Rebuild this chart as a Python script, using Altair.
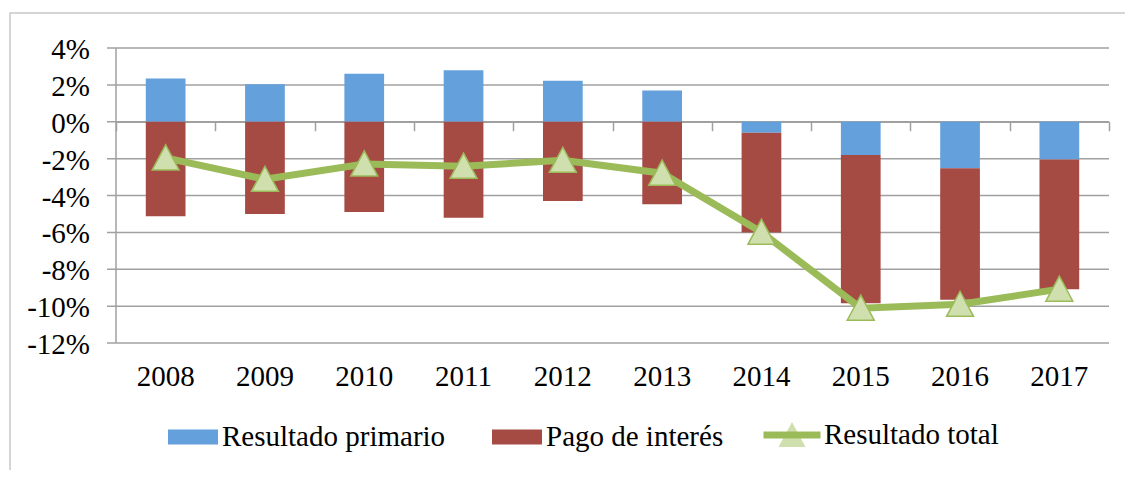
import altair as alt
import pandas as pd

# ---- data (values in %) ----
years = ["2008", "2009", "2010", "2011", "2012", "2013", "2014", "2015", "2016", "2017"]
primario = [2.35, 2.03, 2.60, 2.80, 2.23, 1.70, -0.60, -1.81, -2.52, -2.05]
interes = [-5.13, -5.00, -4.89, -5.20, -4.30, -4.48, -5.40, -8.03, -7.14, -7.03]
total = [-1.96, -3.12, -2.29, -2.41, -2.09, -2.79, -5.99, -10.11, -9.90, -9.08]
y_ticks = [-12, -10, -8, -6, -4, -2, 0, 2, 4]
y_labels = ["-12%", "-10%", "-8%", "-6%", "-4%", "-2%", "0%", "2%", "4%"]

SER_P = "Resultado primario"
SER_I = "Pago de interés"
SER_T = "Resultado total"

bars_df = pd.DataFrame({
    "anio": years * 2,
    "serie": [SER_P] * len(years) + [SER_I] * len(years),
    "valor": primario + interes,
    "orden": [0] * len(years) + [1] * len(years),
})
line_df = pd.DataFrame({"anio": years, "serie": [SER_T] * len(years), "valor": total})
ytick_df = pd.DataFrame({"t": y_ticks, "lab": y_labels})

FONT = "Liberation Serif"
FS = 29
GRID = "#A0A0A0"
BLUE = "#64A0DC"
RED = "#A64A44"
GREEN = "#9BBB59"
LIGHT = "#D0DFAE"
TRI = "M0,-0.42L0.435,0.39L-0.435,0.39Z"
W, H = 993, 295

x_scale = alt.Scale(type="band", domain=years, paddingInner=0.6, paddingOuter=0.3)
x_scale_axis = alt.Scale(type="band", domain=years, paddingInner=0, paddingOuter=0)
y_scale = alt.Scale(domain=[-12, 4], nice=False, zero=False)

border = alt.Chart(pd.DataFrame({"a": [0]})).mark_rect(
    fillOpacity=0, stroke="#C8C8C8", strokeWidth=1.5
).encode(
    x=alt.value(-106), x2=alt.value(1100), y=alt.value(-35), y2=alt.value(520)
)

# horizontal gridlines (with their short tick left of the axis)
grid = alt.Chart(ytick_df).mark_rule(color=GRID, strokeWidth=1.5).encode(
    y=alt.Y("t:Q", scale=y_scale, axis=None),
    x=alt.value(-9), x2=alt.value(W),
)
# vertical axis line
ydomain = alt.Chart(pd.DataFrame({"a": [0]})).mark_rule(color=GRID, strokeWidth=1.5).encode(
    x=alt.value(0), y=alt.value(0), y2=alt.value(H)
)
# y tick labels
ylabels = alt.Chart(ytick_df).mark_text(
    align="right", baseline="middle", font=FONT, fontSize=FS, color="#000000", dy=2
).encode(
    y=alt.Y("t:Q", scale=y_scale, axis=None),
    x=alt.value(-26),
    text="lab:N",
)

# invisible layer that carries the x axis drawn along 0 % (ticks between years)
axes_layer = alt.Chart(line_df).mark_point(opacity=0).encode(
    x=alt.X("anio:O", scale=x_scale_axis, title=None,
            axis=alt.Axis(orient="bottom", offset=-221.25, labels=False,
                          domain=True, domainColor=GRID, domainWidth=1.5,
                          ticks=True, tickBand="extent", tickSize=9,
                          tickColor=GRID, tickWidth=1.5, grid=False)),
    y=alt.Y("valor:Q", scale=y_scale, axis=None),
)

bars = alt.Chart(bars_df).mark_bar().encode(
    x=alt.X("anio:O", scale=x_scale, axis=None),
    y=alt.Y("valor:Q", stack="zero", scale=y_scale, axis=None),
    color=alt.Color("serie:N",
                    scale=alt.Scale(domain=[SER_P, SER_I], range=[BLUE, RED]),
                    legend=alt.Legend(orient="none", legendX=52, legendY=364,
                                      direction="horizontal", columns=2, title=None,
                                      symbolType="M-1,-0.3H1V0.3H-1Z", symbolSize=2500,
                                      symbolStrokeWidth=0, symbolOpacity=1,
                                      labelFont=FONT, labelFontSize=FS,
                                      labelColor="#000000", labelOffset=4,
                                      columnPadding=46, labelLimit=0)),
    order=alt.Order("orden:Q"),
)

line = alt.Chart(line_df).mark_line(strokeWidth=7, color=GREEN).encode(
    x=alt.X("anio:O", scale=x_scale, title=None,
            axis=alt.Axis(orient="bottom", domain=False, ticks=False, grid=False,
                          labelFont=FONT, labelFontSize=FS, labelColor="#000000",
                          labelPadding=19, labelAngle=0)),
    y=alt.Y("valor:Q", scale=y_scale, axis=None),
    color=alt.Color("serie:N",
                    scale=alt.Scale(domain=[SER_T], range=[GREEN]),
                    legend=alt.Legend(orient="none", legendX=644, legendY=355,
                                      title=None, symbolType="M-1,0H1",
                                      symbolSize=3249, symbolStrokeWidth=7,
                                      labelFont=FONT, labelFontSize=FS,
                                      labelColor="#000000", labelOffset=0,
                                      labelLimit=0)),
)

points = alt.Chart(line_df).mark_point(
    filled=True, fill=LIGHT, stroke=GREEN, strokeWidth=1.5, size=3844, opacity=1
).encode(
    x=alt.X("anio:O", scale=x_scale, axis=None),
    y=alt.Y("valor:Q", scale=y_scale, axis=None),
    shape=alt.Shape("serie:N",
                    scale=alt.Scale(domain=[SER_T], range=[TRI]),
                    legend=alt.Legend(orient="none", legendX=644, legendY=355,
                                      title=None, symbolSize=3844,
                                      symbolFillColor=LIGHT, symbolStrokeColor=GREEN,
                                      symbolStrokeWidth=1.5, symbolOpacity=1,
                                      labelFont=FONT, labelFontSize=FS,
                                      labelColor="#000000", labelOffset=0,
                                      labelOpacity=0, labelLimit=0)),
)

chart = alt.layer(border, grid, ydomain, axes_layer, bars, line, points, ylabels).properties(
    width=W, height=H,
    padding={"left": 108, "top": 40, "right": 16, "bottom": 127},
    autosize=alt.AutoSizeParams(type="none"),
    background="white",
).resolve_scale(color="independent", x="independent").resolve_axis(
    x="independent"
).configure_view(stroke=None)

chart.save("out.html", embed_options={"renderer": "svg", "actions": False})
